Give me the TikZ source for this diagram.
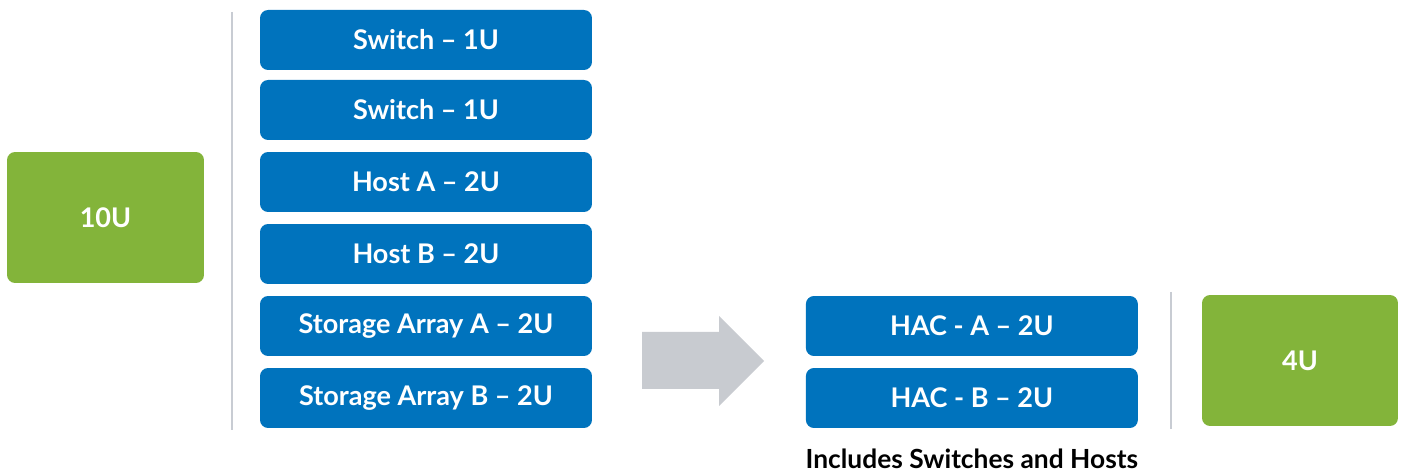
\documentclass[tikz,border=0pt]{standalone}
\usepackage{fontspec}
\setmainfont{Lato}
\usetikzlibrary{positioning}

\definecolor{rackblue}{RGB}{0,115,189}
\definecolor{unitgreen}{RGB}{131,180,58}
\definecolor{arrowgray}{RGB}{200,203,208}
\definecolor{linegray}{RGB}{200,204,211}

\begin{document}
\begin{tikzpicture}[x=0.02cm, y=-0.02cm,
    node distance=0.24cm,
    device/.style={fill=rackblue, rounded corners=0.16cm,
      minimum width=6.64cm, minimum height=1.2cm, inner sep=0pt, outer sep=0pt,
      text=white, font=\fontsize{15.4}{17}\selectfont\bfseries},
    total/.style={fill=unitgreen, rounded corners=0.16cm,
      minimum width=3.94cm, minimum height=2.62cm, inner sep=0pt,
      text=white, font=\fontsize{15.4}{17}\selectfont\bfseries},
    divider/.style={draw=linegray, line width=0.04cm}]
    \useasboundingbox (0,0) rectangle (1403,472);

    % before: full rack
    \node[total] (tenu) at (105.5,217.5) {10U};
    \node[device] (swa) at (426,40) {Switch – 1U};
    \node[device] (swb) at (426,110) {Switch – 1U};
    \node[device] (hosta) at (426,182) {Host A – 2U};
    \node[device] (hostb) at (426,254) {Host B – 2U};
    \node[device] (saa) at (426,326) {Storage Array A – 2U};
    \node[device] (sab) at (426,398) {Storage Array B – 2U};
    \draw[divider] (232,12) -- (232,430);

    % after: HAC
    \node[device, right=4.28cm of saa] (haca) {HAC - A – 2U};
    \node[device, right=4.28cm of sab] (hacb) {HAC - B – 2U};
    \node[below=0.41cm of hacb, inner sep=0pt,
      font=\fontsize{15}{17}\selectfont\bfseries] (note) {Includes Switches and Hosts};
    \draw[divider] (1171,292) -- (1171,429);
    \node[total, minimum width=3.92cm] (fouru) at (1300,360.5) {4U};

    \fill[arrowgray] (642,332) -- (719,332) -- (719,316) -- (764,361)
      -- (719,406) -- (719,389) -- (642,389) -- cycle;
\end{tikzpicture}
\end{document}
